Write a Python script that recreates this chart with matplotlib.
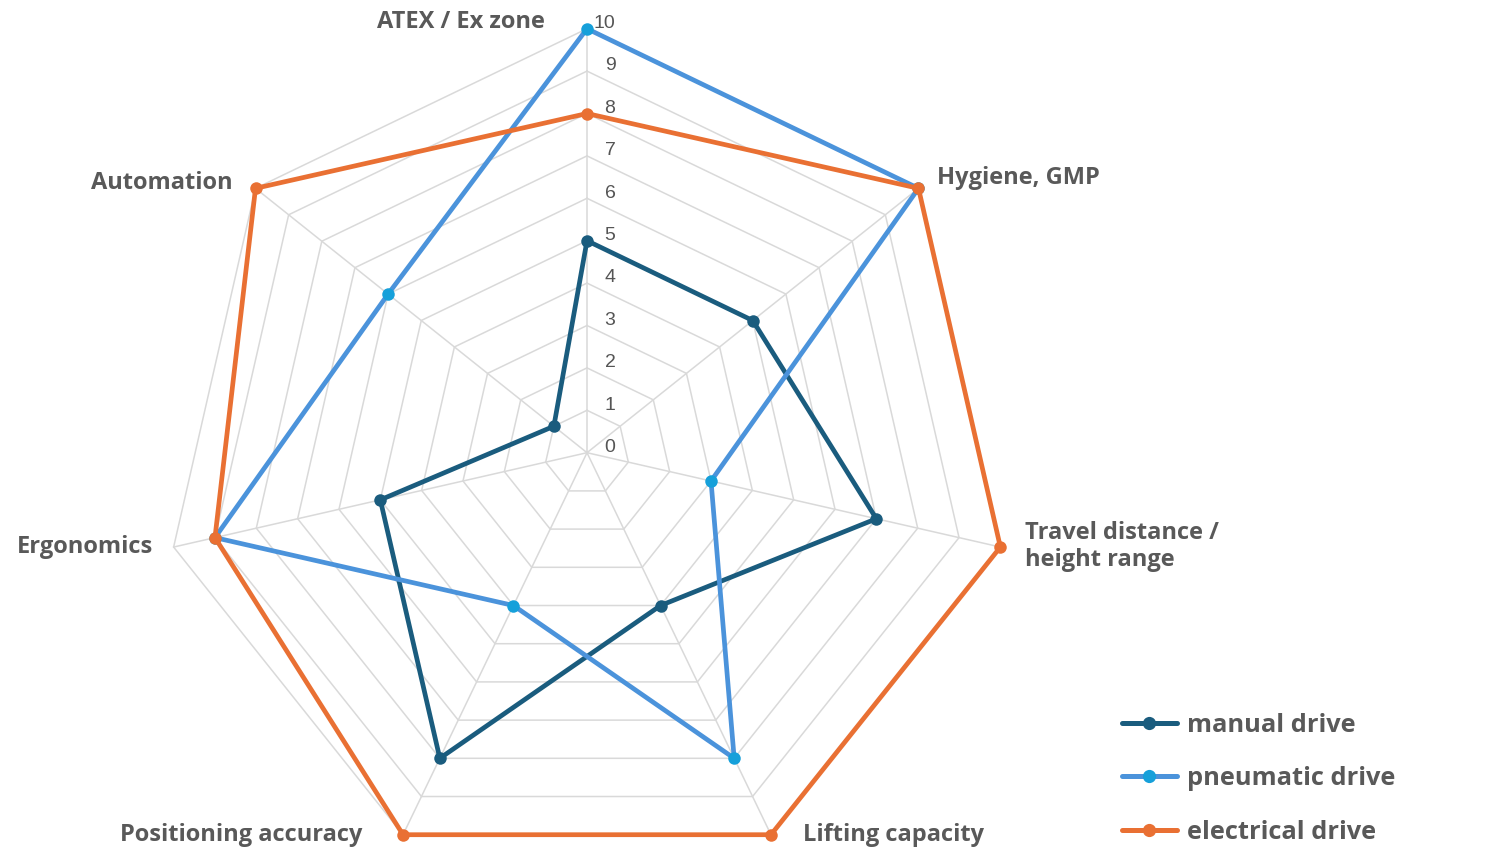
import numpy as np
import matplotlib
matplotlib.use("Agg")
import matplotlib.pyplot as plt
from matplotlib.lines import Line2D

categories = ["ATEX / Ex zone", "Hygiene, GMP", "Travel distance /\nheight range",
              "Lifting capacity", "Positioning accuracy", "Ergonomics", "Automation"]
manual = [5, 5, 7, 4, 8, 5, 1]
pneumatic = [10, 10, 3, 8, 4, 9, 6]
electrical = [8, 10, 10, 10, 10, 9, 10]
series_names = ["manual drive", "pneumatic drive", "electrical drive"]
radial_ticks = list(range(0, 11))

line_colors = ["#1a5c7e", "#4b93db", "#e97033"]
marker_colors = ["#1a5c7e", "#16a0da", "#e97033"]
grid_color = "#d9d9d9"
text_color = "#595959"

FONT = ["Open Sans", "DejaVu Sans"]

W, H = 1500, 858
fig = plt.figure(figsize=(W / 100, H / 100), dpi=100)
ax = fig.add_axes([0, 0, 1, 1])
cx, cy, R = 587.0, 452.7, 424.0
scale = R / 10.0
ax.set_xlim(-cx / scale, (W - cx) / scale)
ax.set_ylim(-(H - cy) / scale, cy / scale)
ax.axis("off")

n = len(categories)
theta = np.deg2rad(90 - np.arange(n) * 360.0 / n)
ux, uy = np.cos(theta), np.sin(theta)

def xy(vals):
    v = np.asarray(vals, dtype=float)
    x = v * ux
    y = v * uy
    return np.append(x, x[0]), np.append(y, y[0])

# grid polygons
for r in radial_ticks[1:]:
    gx, gy = xy([r] * n)
    ax.plot(gx, gy, color=grid_color, lw=1.1, zorder=1, solid_joinstyle="miter")
# spokes
for i in range(n):
    ax.plot([0, 10 * ux[i]], [0, 10 * uy[i]], color=grid_color, lw=1.1, zorder=1)

# radial tick labels
for r in radial_ticks:
    ax.annotate(str(r), (0, r), xytext=(20.5, 3.8),
                textcoords="offset points", ha="right", va="center",
                fontsize=14, color="#555555", family=["Liberation Sans", "DejaVu Sans"])

# series
data = [manual, pneumatic, electrical]
for k, vals in enumerate(data):
    px, py = xy(vals)
    ax.plot(px, py, color=line_colors[k], lw=3.4, zorder=3 + k,
            solid_joinstyle="round", solid_capstyle="round")
    ax.plot(px[:-1], py[:-1], "o", color=marker_colors[k], ms=9, zorder=3 + k,
            markeredgewidth=0)

# category labels: offsets in points from r=10 vertex
offsets = [(-30, 4.5, "right"), (13.5, 7.5, "left"), (18, 0.5, "left"), (23, 0, "left"),
           (-29.5, 0, "right"), (-15, 0.2, "right"), (-16.5, 3.6, "right")]
for i, lab in enumerate(categories):
    dx, dy, ha = offsets[i]
    ax.annotate(lab, (10 * ux[i], 10 * uy[i]), xytext=(dx, dy), textcoords="offset points",
                ha=ha, va="center", fontsize=17, fontweight="bold", color=text_color,
                family=FONT, linespacing=1.2)

# legend
handles = [Line2D([], [], color=line_colors[k], lw=3.6, marker="o", ms=9.5,
                  markerfacecolor=marker_colors[k], markeredgewidth=0,
                  solid_capstyle="round") for k in range(3)]
leg = fig.legend(handles, series_names, loc="upper left", bbox_to_anchor=(1099 / W, 1 - 690 / H),
                 frameon=False, handlelength=2.16, handletextpad=0.39, labelspacing=1.12,
                 prop={"family": FONT, "size": 18.3, "weight": "bold"})
for t in leg.get_texts():
    t.set_color(text_color)

fig.savefig("out.png", dpi=100)
